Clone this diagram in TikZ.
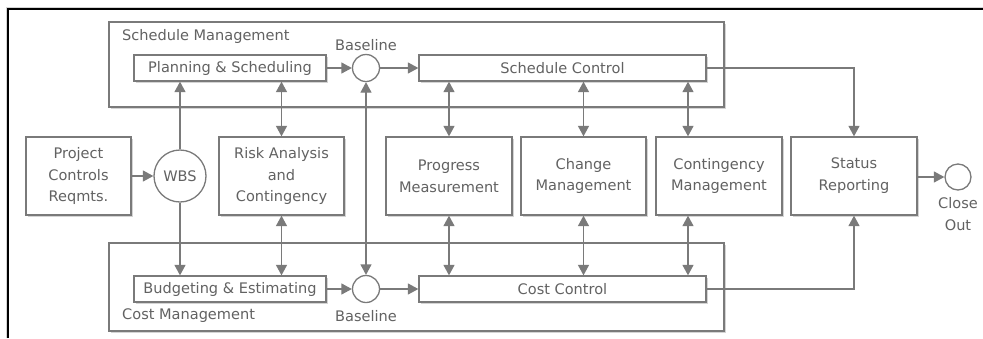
\documentclass[tikz,border=0pt]{standalone}
\usepackage{fontspec}
\setmainfont{DejaVu Sans}
\usetikzlibrary{arrows.meta,shadows,positioning}
\definecolor{lineg}{HTML}{7A7A7A}
\definecolor{textg}{HTML}{626262}
\definecolor{shadg}{HTML}{D4D4D4}
\tikzset{
  base/.style={font=\fontsize{14.6}{22}\selectfont, text=textg},
  box/.style={base, draw=lineg, line width=1.3bp, fill=white, rectangle,
    inner sep=0pt, align=center,
    drop shadow={shadow xshift=1.6bp, shadow yshift=-1.6bp, fill=shadg, opacity=1}},
  grp/.style={draw=lineg, line width=1.3bp, fill=white, rectangle, inner sep=0pt,
    drop shadow={shadow xshift=1.6bp, shadow yshift=-1.6bp, fill=shadg, opacity=1}},
  junction/.style={base, draw=lineg, line width=1.3bp, fill=white, circle, inner sep=0pt},
  lbl/.style={base, inner sep=0pt},
  tip/.tip={Triangle[length=10.5bp,width=11bp]},
  flow/.style={draw=lineg, line width=1.3bp, -tip},
  twoway/.style={draw=lineg, line width=1.3bp, tip-tip},
}
\begin{document}
\begin{tikzpicture}[x=1bp,y=-1bp]
\useasboundingbox (0,0) rectangle (983,338);
\fill[white] (0,0) rectangle (983,338);

% outer frame
\draw[shadg, line width=1bp] (6.5,338) -- (6.5,7.5) -- (983,7.5);
\draw[black, line width=1.8bp] (8.3,338) -- (8.3,9.3) -- (983,9.3);

% management groups
\node[grp, minimum width=615bp, minimum height=85bp] (schedMgmt) at (416.5,64.5) {};
\node[grp, minimum width=615bp, minimum height=88bp] (costMgmt) at (416.5,287) {};
\node[lbl, anchor=west] (schedTitle) at (122,36.5) {Schedule Management};
\node[lbl, anchor=west] (costTitle) at (122,316) {Cost Management};

% schedule row
\node[box, minimum width=192bp, minimum height=26bp] (plan) at (230,68) {Planning \& Scheduling};
\node[junction, minimum size=27bp] (baseTop) at (366,68) {};
\node[lbl] (baseTopLbl) at (366,45) {Baseline};
\node[box, minimum width=287bp, minimum height=26bp] (schedCtl) at (562.5,68) {Schedule Control};

% cost row
\node[box, minimum width=192bp, minimum height=26bp] (budget) at (230,289) {Budgeting \& Estimating};
\node[junction, minimum size=27bp] (baseBot) at (366,289) {};
\node[lbl] (baseBotLbl) at (366,316) {Baseline};
\node[box, minimum width=287bp, minimum height=26bp] (costCtl) at (562.5,289) {Cost Control};

% middle row
\node[box, minimum width=105bp, minimum height=78bp] (reqs) at (78.5,176) {Project\\Controls\\Reqmts.};
\node[junction, minimum size=52bp] (wbs) at (180,176) {WBS};
\node[box, minimum width=125bp, minimum height=78bp] (risk) at (281.5,176) {Risk Analysis\\and\\Contingency};
\node[box, minimum width=126bp, minimum height=78bp] (prog) at (449,176) {Progress\\Measurement};
\node[box, minimum width=125bp, minimum height=78bp] (change) at (583.5,176) {Change\\Management};
\node[box, minimum width=126bp, minimum height=78bp] (conting) at (719,176) {Contingency\\Management};
\node[box, minimum width=126bp, minimum height=78bp] (status) at (854,176) {Status\\Reporting};
\node[junction, minimum size=26bp] (close) at (958,177) {};
\node[lbl, align=center] (closeLbl) at (958,214.5) {Close\\Out};

\coordinate (contX) at (688,0);

% connectors
\draw[flow] (reqs.east |- wbs) -- (wbs.west);
\draw[flow] (wbs.north) -- (wbs.north |- plan.south);
\draw[flow] (wbs.south) -- (wbs.south |- budget.north);
\draw[twoway] (risk.north) -- (risk.north |- plan.south);
\draw[twoway] (risk.south) -- (risk.south |- budget.north);

\draw[flow] (plan.east) -- (baseTop.west);
\draw[flow] (baseTop.east) -- (schedCtl.west);
\draw[flow] (budget.east) -- (baseBot.west);
\draw[flow] (baseBot.east) -- (costCtl.west);
\draw[twoway] (baseTop.south) -- (baseBot.north);

\draw[twoway] (schedCtl.south -| prog.north) -- (prog.north);
\draw[twoway] (costCtl.north -| prog.south) -- (prog.south);
\draw[twoway] (schedCtl.south -| change.north) -- (change.north);
\draw[twoway] (costCtl.north -| change.south) -- (change.south);
\draw[twoway] (schedCtl.south -| contX) -- (conting.north -| contX);
\draw[twoway] (costCtl.north -| contX) -- (conting.south -| contX);

\draw[flow] (schedCtl.east) -| (status.north);
\draw[flow] (costCtl.east) -| (status.south);
\draw[flow] (status.east |- close) -- (close.west);
\end{tikzpicture}
\end{document}
